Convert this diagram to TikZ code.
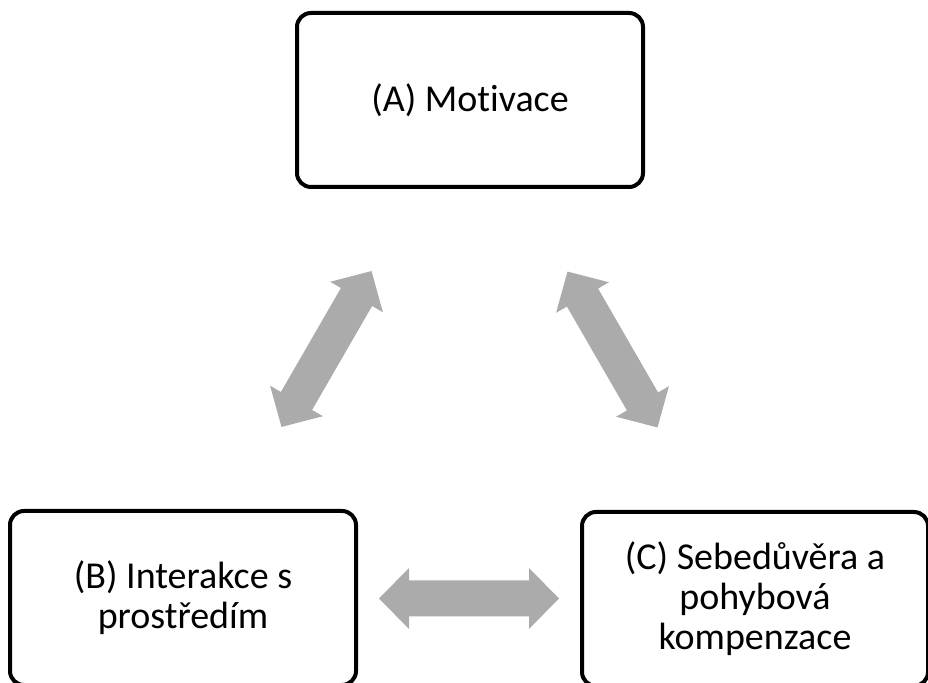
\documentclass[tikz,border=0pt]{standalone}
\usepackage{fontspec}
\setmainfont{Carlito}[RawFeature=-liga]
\usetikzlibrary{calc}

\definecolor{arrowgray}{RGB}{171,171,171}

\tikzset{
  box/.style={draw, line width=4pt, rounded corners=14pt,
    minimum width=346pt, minimum height=174pt, align=center,
    font=\fontsize{38}{40}\selectfont},
  dblarrow/.pic={
    \fill[arrowgray] (-90,0) -- (-60,30.5) -- (-60,18) -- (60,18) -- (60,30.5)
      -- (90,0) -- (60,-30.5) -- (60,-18) -- (-60,-18) -- (-60,-30.5) -- cycle;
  }
}

\begin{document}
\begin{tikzpicture}[x=1pt, y=1pt]

% Frame of the whole picture
\useasboundingbox (0,0) rectangle (928,682);

% The three boxes
\node[box] (A) at (470,582) {(A) Motivace};
\node[box] (B) at (183,84) {(B) Interakce s\\prostředím};
\node[box] (C) at (755,83) {(C) Sebedůvěra a\\pohybová\\kompenzace};

% Double arrows between the boxes
\pic[rotate=60] at ($(A.south west)!0.5!(B.north east)$) {dblarrow};
\pic[rotate=120] at ($(A.south east)!0.5!(C.north west)$) {dblarrow};
\pic at ($(B.east)!0.5!(C.west)$) {dblarrow};

\end{tikzpicture}
\end{document}
